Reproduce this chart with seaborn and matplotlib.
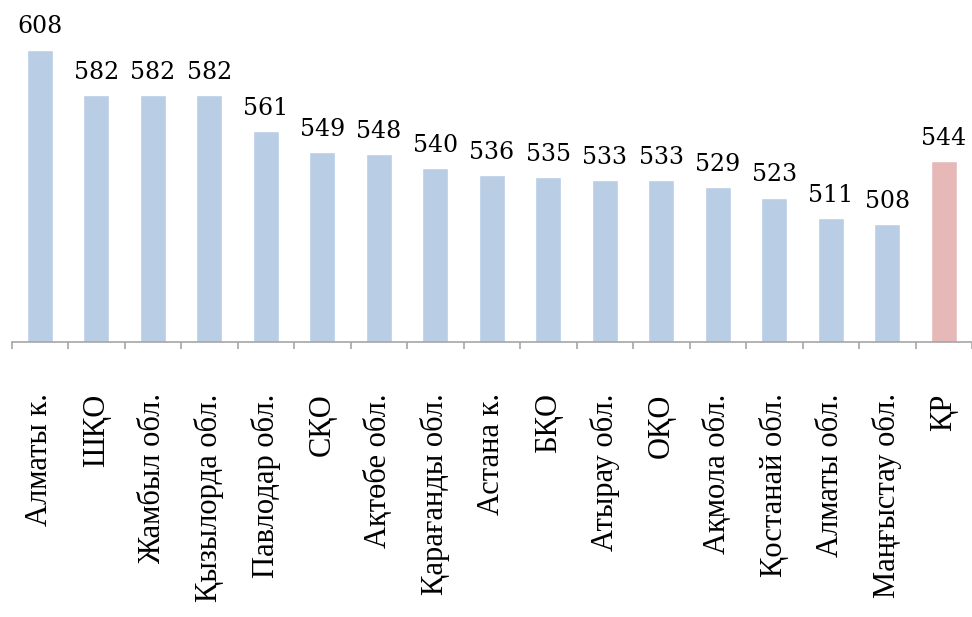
import numpy as np
import pandas as pd
import matplotlib
matplotlib.use("Agg")
import matplotlib.pyplot as plt
import seaborn as sns

categories = ["Алматы к.", "ШҚО", "Жамбыл обл.", "Қызылорда обл.", "Павлодар обл.",
              "СҚО", "Ақтөбе обл.", "Қарағанды обл.", "Астана к.", "БҚО",
              "Атырау обл.", "ОҚО", "Ақмола обл.", "Қостанай обл.", "Алматы обл.",
              "Маңғыстау обл.", "ҚР"]
values = [608, 582, 582, 582, 561, 549, 548, 540, 536, 535, 533, 533, 529, 523, 511, 508, 544]
bar_colors = ["#B9CDE5"] * 16 + ["#E6B9B8"]

sns.set_theme(style="white")
plt.rcParams['font.family'] = ['Liberation Serif', 'DejaVu Serif']

df = pd.DataFrame({"cat": categories, "val": values})

fig = plt.figure(figsize=(9.72, 6.17), dpi=100)
ax = fig.add_axes([11.5 / 972, 1 - 342 / 617, 960.5 / 972, 342 / 617])

sns.barplot(data=df, x="cat", y="val", hue="cat", palette=bar_colors,
            legend=False, width=0.46, ax=ax, saturation=1)

ax.set_ylim(440, 636.5)
ax.set_xlim(-0.5, 16.5)
ax.set_xlabel("")
ax.set_ylabel("")
ax.set_yticks([])

for s in ["top", "right", "left"]:
    ax.spines[s].set_visible(False)
ax.spines["bottom"].set_color("#A6A6A6")
ax.spines["bottom"].set_linewidth(1.2)

ax.set_xticks(np.arange(len(categories)))
ax.set_xticklabels(categories, rotation=90, fontsize=22, color="black")
ax.set_xticks(np.arange(-0.5, len(categories), 1), minor=True)
ax.tick_params(axis="x", which="major", length=0, pad=37)
ax.tick_params(axis="x", which="minor", length=5, width=1.2, color="#A6A6A6",
               direction="out", bottom=True)

for cont in ax.containers:
    ax.bar_label(cont, fmt="%d", padding=8, fontsize=17,
                 family=['DejaVu Serif'], color="black")

fig.savefig("out.png", dpi=100)
